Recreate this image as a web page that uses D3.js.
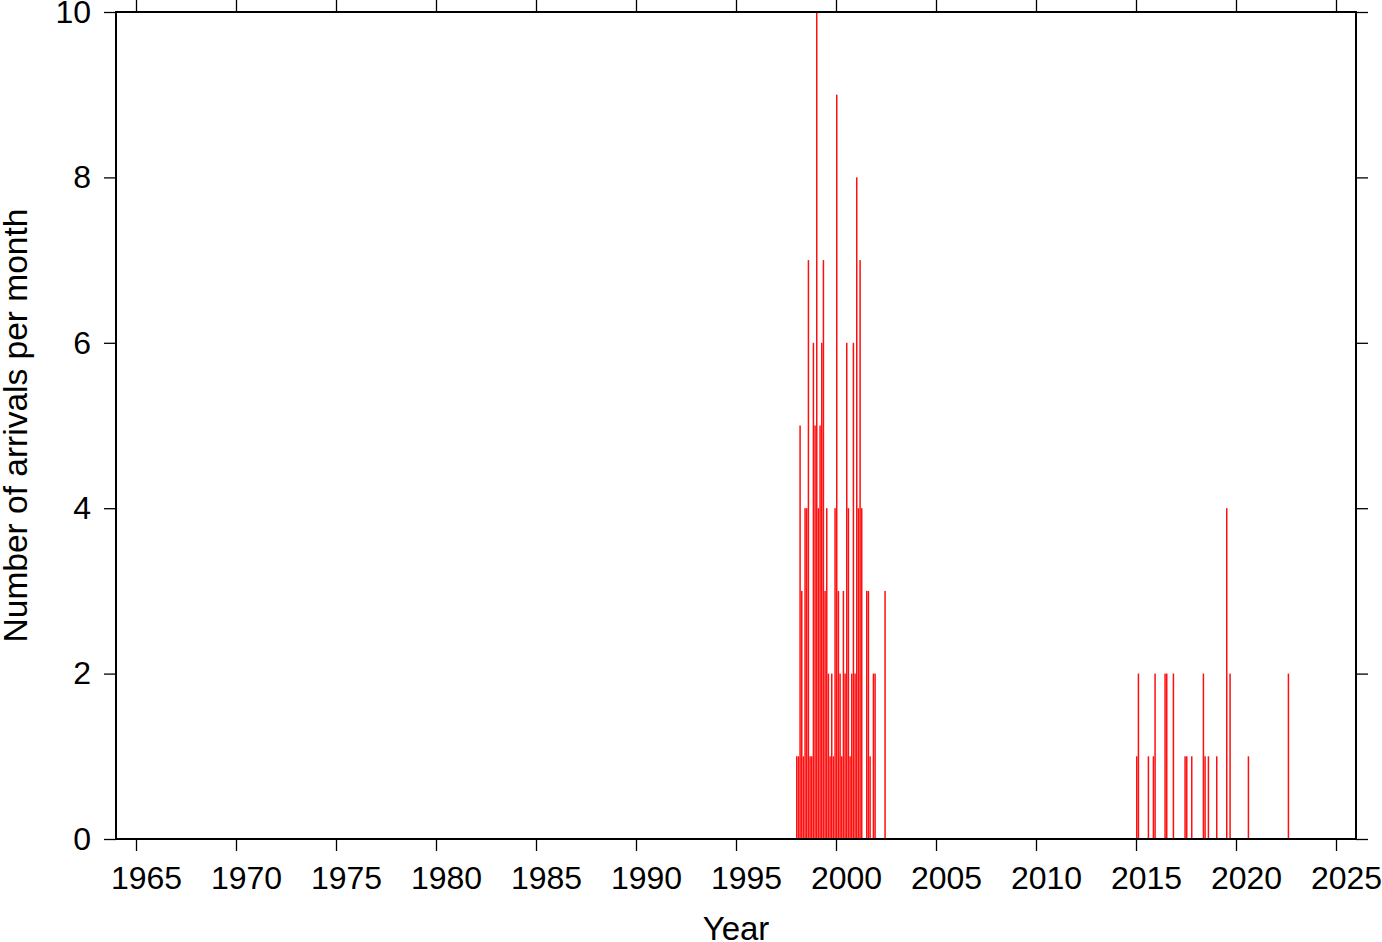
<!DOCTYPE html>
<html>
<head>
<meta charset="utf-8">
<script src="https://cdn.jsdelivr.net/npm/d3@7"></script>
<style>
  html, body { margin: 0; padding: 0; background: #fff; }
  svg { display: block; }
  text { font-family: "Liberation Sans", Arial, Helvetica, sans-serif; fill: #000; }
</style>
</head>
<body>
<svg id="chart" width="1382" height="942"></svg>
<script>
// Monthly arrival counts (month "YYYY-MM" -> count); months not listed are 0
const months = [
  "1998-01","1998-02","1998-03","1998-04","1998-05","1998-06","1998-07","1998-08",
  "1998-09","1998-10","1998-11","1998-12",
  "1999-01","1999-02","1999-03","1999-04","1999-05","1999-06","1999-07","1999-08",
  "1999-09","1999-10","1999-11","1999-12",
  "2000-01","2000-02","2000-03","2000-04","2000-05","2000-06","2000-07","2000-08",
  "2000-09","2000-10","2000-11","2000-12",
  "2001-01","2001-02","2001-03","2001-04","2001-07","2001-08","2001-09","2001-11","2001-12",
  "2002-06",
  "2015-01","2015-02","2015-08","2015-11","2015-12",
  "2016-06","2016-07","2016-11",
  "2017-06","2017-07","2017-10",
  "2018-05","2018-06","2018-08",
  "2019-01","2019-07","2019-09",
  "2020-08","2022-08"
];
const counts = [
  1,1,5,3,1,4,4,7,
  1,1,6,5,
  10,4,5,6,7,3,4,2,
  1,2,1,4,
  9,3,2,1,3,2,6,4,
  1,2,6,2,
  8,4,7,4,3,3,1,2,2,
  3,
  1,2,1,1,2,
  2,2,2,
  1,1,1,
  2,1,1,
  1,4,2,
  1,2
];
const xTickYears = [1965,1970,1975,1980,1985,1990,1995,2000,2005,2010,2015,2020,2025];
const yTickValues = [0,2,4,6,8,10];
const xDomain = [1964, 2026];
const yDomain = [0, 10];

(function draw() {
  const svg = d3.select("#chart");
  const mLeft = 116, mRight = 1356, mTop = 12, mBottom = 839;

  const x = d3.scaleLinear().domain(xDomain).range([mLeft, mRight]);
  const y = d3.scaleLinear().domain(yDomain).range([mBottom, mTop]);

  const data = months.map((m, i) => {
    const [yy, mm] = m.split("-").map(Number);
    return { t: yy + (mm - 1) / 12, v: counts[i] };
  });

  const monthW = x(1964 + 1/12) - x(1964);

  svg.append("g")
    .selectAll("rect")
    .data(data)
    .join("rect")
    .attr("x", d => x(d.t))
    .attr("width", monthW * 0.9)
    .attr("y", d => y(d.v))
    .attr("height", d => y(0) - y(d.v))
    .attr("fill", "#ff1010");

  const fontSize = 32;
  const labelShift = x(1965.5) - x(1965);

  const gx = svg.append("g").attr("transform", `translate(0,${mBottom})`)
    .call(d3.axisBottom(x).tickValues(xTickYears).tickFormat(d3.format("d")).tickSize(12).tickPadding(15));
  gx.selectAll("text").attr("x", labelShift).style("font-size", fontSize + "px");

  svg.append("g").attr("transform", `translate(0,${mTop})`)
    .call(d3.axisTop(x).tickValues(xTickYears).tickFormat("").tickSize(12));

  const gy = svg.append("g").attr("transform", `translate(${mLeft},0)`)
    .call(d3.axisLeft(y).tickValues(yTickValues).tickFormat(d3.format("d")).tickSize(12).tickPadding(13));
  gy.selectAll("text").style("font-size", fontSize + "px");

  svg.append("g").attr("transform", `translate(${mRight},0)`)
    .call(d3.axisRight(y).tickValues(yTickValues).tickFormat("").tickSize(12));

  svg.selectAll(".domain").remove();
  svg.selectAll(".tick line").attr("stroke", "#000").attr("stroke-width", 1.3);
  svg.selectAll(".tick text").attr("fill", "#000").style("font-family", '"Liberation Sans", Arial, sans-serif');

  svg.append("rect")
    .attr("x", mLeft).attr("y", mTop)
    .attr("width", mRight - mLeft).attr("height", mBottom - mTop)
    .attr("fill", "none").attr("stroke", "#000").attr("stroke-width", 2);

  svg.append("text")
    .attr("x", (mLeft + mRight) / 2).attr("y", 940)
    .attr("text-anchor", "middle")
    .style("font-size", "33px")
    .text("Year");

  svg.append("text")
    .attr("transform", `translate(27,${(mTop + mBottom) / 2}) rotate(-90)`)
    .attr("text-anchor", "middle")
    .style("font-size", "33.5px")
    .text("Number of arrivals per month");
})();
</script>
</body>
</html>
